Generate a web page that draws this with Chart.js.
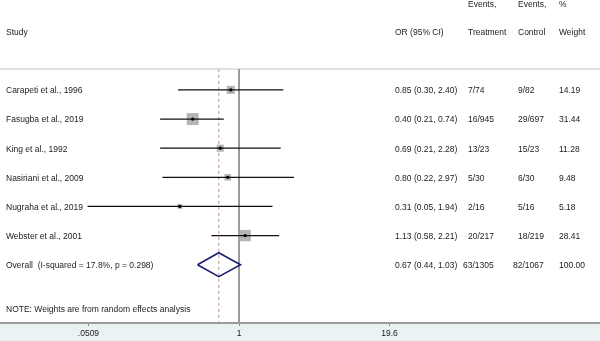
<!DOCTYPE html>
<html>
<head>
<meta charset="utf-8">
<script src="https://cdn.jsdelivr.net/npm/chart.js@4.4.1/dist/chart.umd.min.js"></script>
<style>
  html, body { margin: 0; padding: 0; background: #fff; }
  #wrap { width: 600px; height: 341px; }
</style>
</head>
<body>
<div id="wrap"><canvas id="forestChart" width="600" height="341"></canvas></div>
<script>
// study data
const studies = ['Carapeti et al., 1996', 'Fasugba et al., 2019', 'King et al., 1992',
                 'Nasiriani et al., 2009', 'Nugraha et al., 2019', 'Webster et al., 2001'];
const oddsRatio = [0.85, 0.40, 0.69, 0.80, 0.31, 1.13];
const ciLower = [0.30, 0.21, 0.21, 0.22, 0.05, 0.58];
const ciUpper = [2.40, 0.74, 2.28, 2.97, 1.94, 2.21];
const eventsTreatment = ['7/74', '16/945', '13/23', '5/30', '2/16', '20/217'];
const eventsControl = ['9/82', '29/697', '15/23', '6/30', '5/16', '18/219'];
const weights = [14.19, 31.44, 11.28, 9.48, 5.18, 28.41];

// pooled estimate: OR, lower, upper
const overallOR = [0.67, 0.44, 1.03];
const overallEvents = ['63/1305', '82/1067'];
const overallWeight = 100.00;
const overallLabel = 'Overall  (I-squared = 17.8%, p = 0.298)';
const noteText = 'NOTE: Weights are from random effects analysis';

const tickValues = [0.0509, 1, 19.6];
const tickLabels = ['.0509', '1', '19.6'];

const FONT = '"Liberation Sans", Arial, sans-serif';
const textColor = '#222';
const overallRow = studies.length;
const sepRow = -0.72;
const bottomRow = 8;

const fmt = v => v.toFixed(2);

// CI line datasets, one per study
const ciSets = studies.map((s, i) => ({
    data: [{ x: ciLower[i], y: i }, { x: ciUpper[i], y: i }],
    showLine: true,
    borderColor: '#111',
    borderWidth: 1.3,
    pointRadius: 0,
    order: 2
}));

const squares = {
    data: studies.map((s, i) => ({ x: oddsRatio[i], y: i })),
    pointStyle: 'rect',
    pointRadius: ctx => 1.5 * Math.sqrt(weights[ctx.dataIndex]),
    backgroundColor: '#b4b4b4',
    borderWidth: 0,
    order: 3
};

const dots = {
    data: studies.map((s, i) => ({ x: oddsRatio[i], y: i })),
    pointStyle: 'circle',
    pointRadius: 1.6,
    backgroundColor: '#000',
    borderWidth: 0,
    order: 1
};

const diamond = {
    data: [
        { x: overallOR[1], y: overallRow },
        { x: overallOR[0], y: overallRow - 0.41 },
        { x: overallOR[2], y: overallRow },
        { x: overallOR[0], y: overallRow + 0.41 },
        { x: overallOR[1], y: overallRow }
    ],
    showLine: true,
    borderColor: '#1c1f6e',
    borderWidth: 1.6,
    pointRadius: 0,
    order: 1
};

const nullLine = {
    data: [{ x: 1, y: sepRow }, { x: 1, y: bottomRow }],
    showLine: true,
    borderColor: '#9a9a9a',
    borderWidth: 2,
    pointRadius: 0,
    order: 5
};

const pooledLine = {
    data: [{ x: overallOR[0], y: sepRow }, { x: overallOR[0], y: bottomRow }],
    showLine: true,
    borderColor: '#c7a3a8',
    borderWidth: 1.2,
    borderDash: [3, 3],
    pointRadius: 0,
    order: 4
};

const tablePlugin = {
    id: 'tablePlugin',
    beforeDraw(chart) {
        const { ctx, chartArea } = chart;
        ctx.save();
        ctx.fillStyle = '#fff';
        ctx.fillRect(0, 0, chart.width, chart.height);
        ctx.fillStyle = '#eaf2f3';
        ctx.fillRect(0, chartArea.bottom, chart.width, chart.height - chartArea.bottom);
        // separator below header
        const y = chart.scales.y.getPixelForValue(sepRow);
        ctx.strokeStyle = '#e2e2e2';
        ctx.lineWidth = 2;
        ctx.beginPath();
        ctx.moveTo(0, y);
        ctx.lineTo(chart.width, y);
        ctx.stroke();
        ctx.restore();
    },
    afterDraw(chart) {
        const { ctx } = chart;
        const ys = chart.scales.y;
        ctx.save();
        ctx.font = '8.5px ' + FONT;
        ctx.fillStyle = textColor;
        ctx.textBaseline = 'middle';
        ctx.textAlign = 'left';

        const colOR = 395, colT = 468, colC = 518, colW = 559;
        const yAt = v => ys.getPixelForValue(v) + 1;

        let y = yAt(-2.95);
        ctx.fillText('Events,', colT, y);
        ctx.fillText('Events,', colC, y);
        ctx.fillText('%', colW, y);

        y = yAt(-2);
        ctx.fillText('Study', 6, y);
        ctx.fillText('OR (95% CI)', colOR, y);
        ctx.fillText('Treatment', colT, y);
        ctx.fillText('Control', colC, y);
        ctx.fillText('Weight', colW, y);

        studies.forEach((s, i) => {
            const yy = yAt(i);
            ctx.fillText(s, 6, yy);
            ctx.fillText(`${fmt(oddsRatio[i])} (${fmt(ciLower[i])}, ${fmt(ciUpper[i])})`, colOR, yy);
            ctx.fillText(eventsTreatment[i], colT, yy);
            ctx.fillText(eventsControl[i], colC, yy);
            ctx.fillText(fmt(weights[i]), colW, yy);
        });

        y = yAt(overallRow);
        ctx.fillText(overallLabel, 6, y);
        ctx.fillText(`${fmt(overallOR[0])} (${fmt(overallOR[1])}, ${fmt(overallOR[2])})`, colOR, y);
        ctx.fillText(overallEvents[0], colT - 5, y);
        ctx.fillText(overallEvents[1], colC - 5, y);
        ctx.fillText(fmt(overallWeight), colW, y);

        ctx.fillText(noteText, 6, yAt(7.5));
        ctx.restore();
    }
};

new Chart(document.getElementById('forestChart'), {
    type: 'scatter',
    data: {
        datasets: [...ciSets, squares, dots, diamond, nullLine, pooledLine]
    },
    options: {
        responsive: false,
        animation: false,
        layout: { padding: 0, autoPadding: false },
        plugins: { legend: { display: false }, tooltip: { enabled: false } },
        scales: {
            x: {
                type: 'logarithmic',
                position: 'bottom',
                min: 0.00885,
                max: 1261,
                afterBuildTicks: scale => {
                    scale.ticks = tickValues.map(v => ({ value: v }));
                },
                afterFit: scale => { scale.height = 18; },
                ticks: {
                    autoSkip: false,
                    maxRotation: 0,
                    padding: 3,
                    color: '#222',
                    font: { family: FONT, size: 8.5 },
                    callback: (v, idx) => tickLabels[idx]
                },
                grid: { drawOnChartArea: false, drawTicks: true, tickLength: 3, color: '#888', lineWidth: 1 },
                border: { display: true, color: '#9a9a9a', width: 2 }
            },
            y: {
                type: 'linear',
                display: false,
                reverse: true,
                min: -3.085,
                max: bottomRow
            }
        }
    },
    plugins: [tablePlugin]
});
</script>
</body>
</html>
